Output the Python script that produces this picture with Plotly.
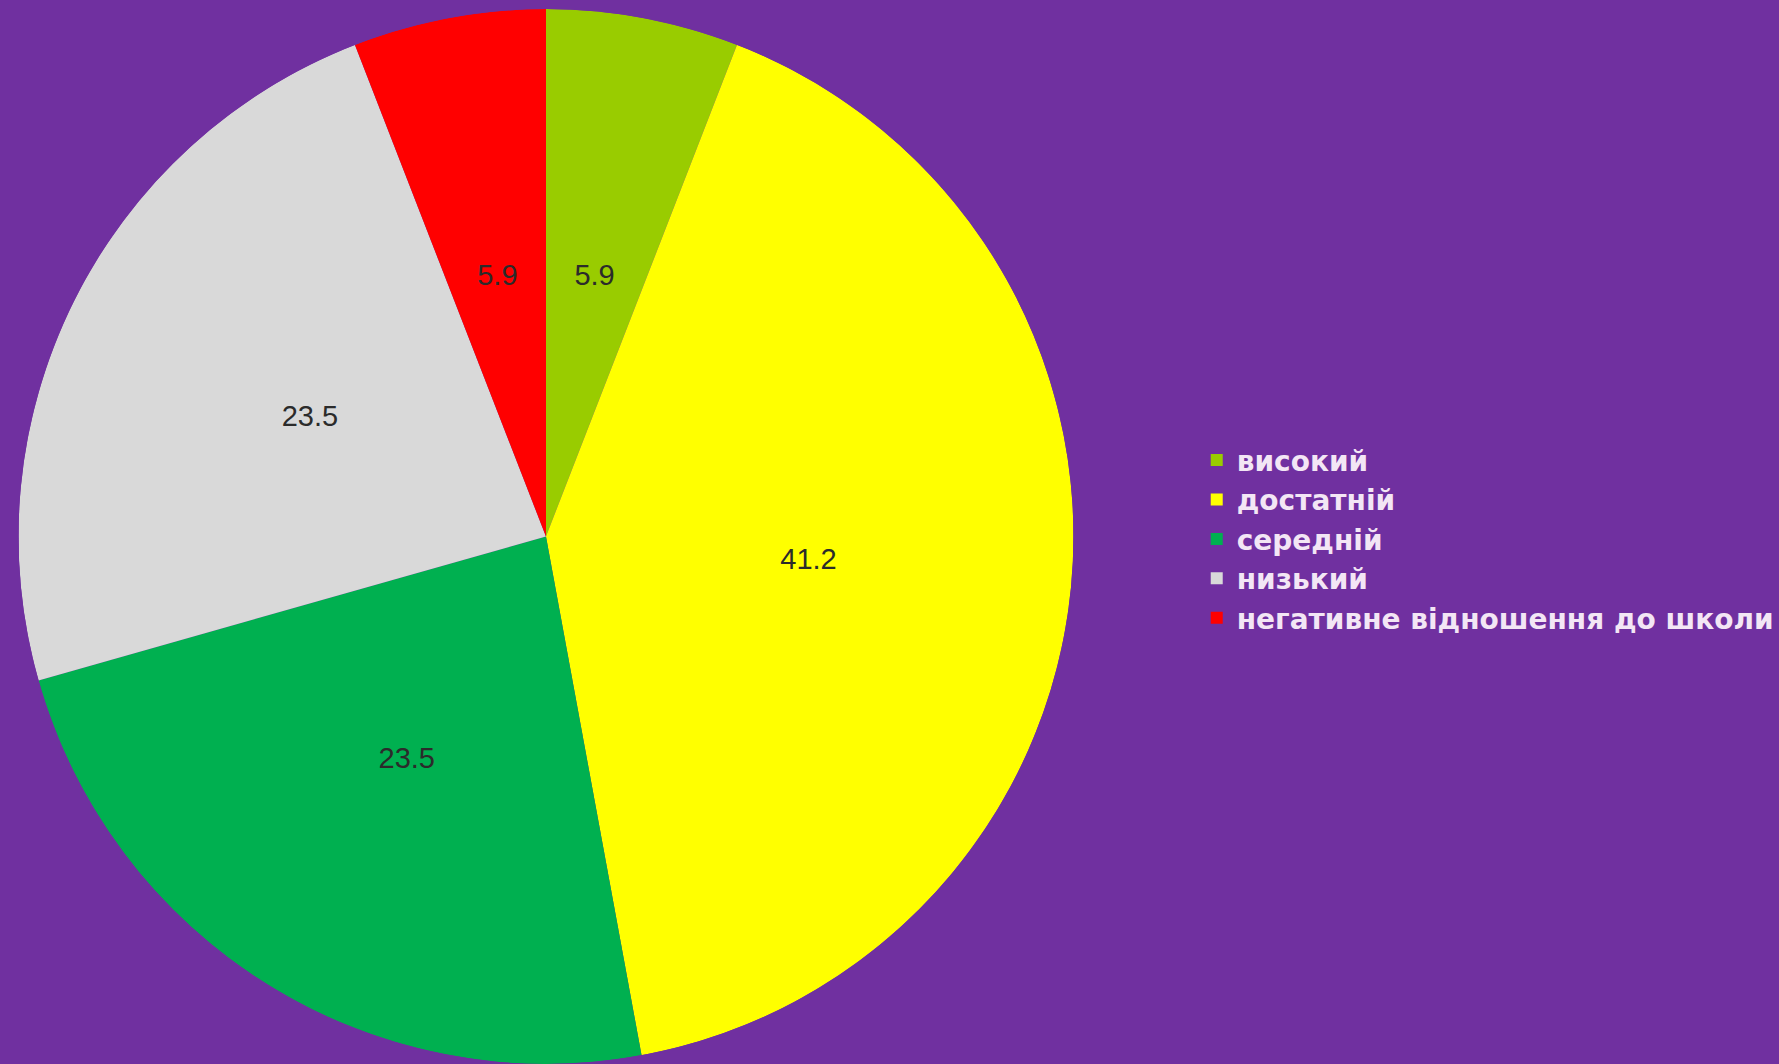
import plotly.graph_objects as go

labels = ["високий", "достатній", "середній", "низький", "негативне відношення до школи"]
values = [5.9, 41.2, 23.5, 23.5, 5.9]
colors = ["#99CC00", "#FFFF00", "#00B050", "#D9D9D9", "#FF0000"]

# slice angles (clockwise from 12 o'clock), derived from the values
total = sum(values)
widths = [v / total * 360 for v in values]
mid_angles = []
acc = 0.0
for w in widths:
    mid_angles.append(acc + w / 2)
    acc += w

fig = go.Figure()

# each slice as a full-radius polar wedge
for lab, v, w, th, c in zip(labels, values, widths, mid_angles, colors):
    fig.add_trace(go.Barpolar(
        r=[1], theta=[th], width=[w],
        name=lab,
        marker=dict(color=c, line=dict(width=0)),
        hovertemplate=f"{lab}: {v}<extra></extra>",
    ))

# value labels at half radius
fig.add_trace(go.Scatterpolar(
    r=[0.5] * len(values),
    theta=mid_angles,
    mode="text",
    text=[f"{v:.1f}" for v in values],
    textfont=dict(family="Liberation Sans, Arial", size=29, color="#2b2b2b"),
    showlegend=False,
    hoverinfo="skip",
))

fig.update_layout(
    width=1779,
    height=1064,
    paper_bgcolor="#7030A0",
    margin=dict(l=0, r=0, t=0, b=0),
    showlegend=True,
    polar=dict(
        domain=dict(x=[0.0101, 0.6037], y=[0.0, 0.9915]),
        bgcolor="rgba(0,0,0,0)",
        bargap=0,
        radialaxis=dict(visible=False, range=[0, 1]),
        angularaxis=dict(visible=False, rotation=90, direction="clockwise"),
    ),
    legend=dict(
        x=0.6727, y=0.4935, xanchor="left", yanchor="middle",
        font=dict(family="DejaVu Sans", size=28, color="#F3E6F5", weight="bold"),
        bgcolor="rgba(0,0,0,0)",
        itemwidth=30,
    ),
)

fig.write_html("out.html", config={"displayModeBar": False},
               post_script="document.body.style.margin='0';")
